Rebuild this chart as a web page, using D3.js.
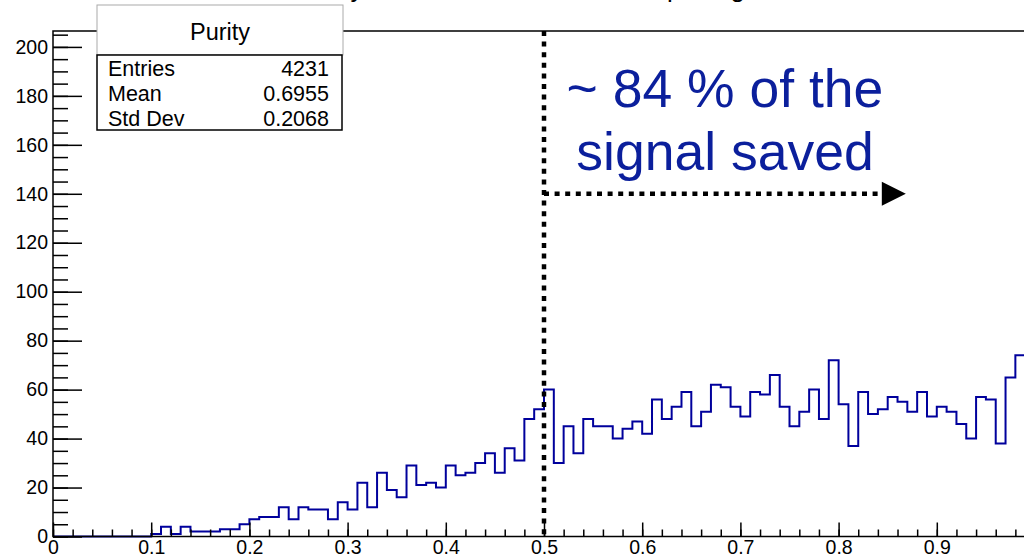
<!DOCTYPE html>
<html>
<head>
<meta charset="utf-8">
<script src="https://cdn.jsdelivr.net/npm/d3@7"></script>
<style>
  body { margin: 0; background: #fff; overflow: hidden; }
  svg { display: block; font-family: "Liberation Sans", Arial, sans-serif; }
</style>
</head>
<body>
<div id="chart"></div>
<script>
// purity histogram, 100 bins on [0,1]; last bin sits off the visible canvas
const binWidth = 0.01
const counts = [
  0, 0, 0, 0, 0, 0, 0, 0, 0, 0,
  1, 4, 1, 4, 2, 2, 2, 3, 3, 5,
  7, 8, 8, 12, 7, 12, 11, 11, 7, 14,
  11, 22, 12, 26, 19, 16, 29, 21, 22, 20,
  29, 25, 26, 30, 34, 26, 36, 31, 48, 52,
  60, 30, 45, 34, 48, 45, 45, 40, 44, 47,
  42, 56, 48, 53, 59, 45, 51, 62, 61, 53,
  49, 59, 58, 66, 53, 45, 51, 60, 48, 72,
  54, 37, 59, 50, 52, 57, 55, 51, 59, 49,
  53, 51, 46, 40, 57, 56, 38, 65, 74, 196
]
const xTicks = [0, 0.1, 0.2, 0.3, 0.4, 0.5, 0.6, 0.7, 0.8, 0.9]
const yTicks = [0, 20, 40, 60, 80, 100, 120, 140, 160, 180, 200]
const statLabels = ['Entries', 'Mean', 'Std Dev']
const statValues = ['4231', '0.6955', '0.2068']
const histTitle = 'Purity of the events with correct pairing'
const statTitle = 'Purity'
const noteLines = ['~ 84 % of the', 'signal saved']
const cutValue = 0.5
const arrowY = 140   // counts level of the dotted arrow
const arrowEnd = 0.844

const W = 1024, H = 558
const svg = d3.select('#chart').append('svg').attr('width', W).attr('height', H)

const x = d3.scaleLinear().domain([0, 1]).range([53, 1035])
const y = d3.scaleLinear().domain([0, 206.5]).range([536.5, 31])
const tickFont = 19.5

// title, mostly off the top of the canvas (as in the original crop)
svg.append('text')
  .attr('x', 297).attr('y', -3)
  .attr('font-size', 26)
  .text(histTitle)

// histogram outline
const pts = counts.map((c, i) => [i * binWidth, c])
pts.push([1, counts[counts.length - 1]])
const step = d3.line()
  .x(d => x(d[0]))
  .y(d => y(d[1]))
  .curve(d3.curveStepAfter)
svg.append('path')
  .attr('d', step(pts))
  .attr('fill', 'none')
  .attr('stroke', '#00009c')
  .attr('stroke-width', 2)

// frame
svg.append('rect')
  .attr('x', x(0)).attr('y', y.range()[1])
  .attr('width', x(1) - x(0)).attr('height', y(0) - y.range()[1])
  .attr('fill', 'none').attr('stroke', '#000').attr('stroke-width', 1.5)

// y axis: minor every 5, major every 20, ticks pointing inward
const yMinor = d3.range(0, 206, 5)
svg.append('g').attr('transform', `translate(${x(0)},0)`)
  .call(d3.axisLeft(y).tickValues(yMinor).tickFormat('').tickSizeInner(-15).tickSizeOuter(0))
  .call(g => g.select('.domain').remove())
svg.append('g').attr('transform', `translate(${x(0)},0)`)
  .call(d3.axisLeft(y).tickValues(yTicks).tickFormat(d3.format('d')).tickSizeInner(-29).tickSizeOuter(0).tickPadding(5))
  .call(g => g.select('.domain').remove())
  .call(g => g.selectAll('text').attr('font-size', tickFont).attr('fill', '#000')
    .attr('font-family', '"Liberation Sans", Arial, sans-serif'))

// x axis: minor every 0.02, major every 0.1
const xMinor = d3.range(0, 1.001, 0.02)
svg.append('g').attr('transform', `translate(0,${y(0)})`)
  .call(d3.axisBottom(x).tickValues(xMinor).tickFormat('').tickSizeInner(-7).tickSizeOuter(0))
  .call(g => g.select('.domain').remove())
svg.append('g').attr('transform', `translate(0,${y(0)})`)
  .call(d3.axisBottom(x).tickValues(xTicks).tickFormat(d => d === 0 ? '0' : d3.format('.1f')(d))
    .tickSizeInner(-14).tickSizeOuter(0).tickPadding(4))
  .call(g => g.select('.domain').remove())
  .call(g => g.selectAll('text').attr('font-size', tickFont).attr('fill', '#000')
    .attr('font-family', '"Liberation Sans", Arial, sans-serif'))
svg.selectAll('.tick line').attr('stroke', '#000').attr('stroke-width', 1.5)

// cut line at 0.5 and dotted arrow
svg.append('line')
  .attr('x1', x(cutValue)).attr('x2', x(cutValue))
  .attr('y1', y.range()[1]).attr('y2', y(0))
  .attr('stroke', '#000').attr('stroke-width', 4.5).attr('stroke-dasharray', '5 5.6')
const ax = x(arrowEnd)
svg.append('line')
  .attr('x1', x(cutValue)).attr('x2', ax - 2)
  .attr('y1', y(arrowY)).attr('y2', y(arrowY))
  .attr('stroke', '#000').attr('stroke-width', 4.5).attr('stroke-dasharray', '5 5.6')
svg.append('path')
  .attr('d', `M${ax},${y(arrowY) - 12} L${ax + 24},${y(arrowY)} L${ax},${y(arrowY) + 12} Z`)
  .attr('fill', '#000')

// annotation
const note = svg.append('text')
  .attr('text-anchor', 'middle')
  .attr('font-size', 53.5)
  .attr('fill', '#0b1f9c')
note.selectAll('tspan').data(noteLines).enter().append('tspan')
  .attr('x', 725)
  .attr('y', (d, i) => 107 + i * 63)
  .text(d => d)

// stats box
const sb = svg.append('g')
sb.append('rect')
  .attr('x', 97).attr('y', 5).attr('width', 246).attr('height', 50)
  .attr('fill', '#fff').attr('stroke', '#aaa').attr('stroke-width', 1)
sb.append('text')
  .attr('x', 220).attr('y', 40).attr('text-anchor', 'middle')
  .attr('font-size', 23.5).text(statTitle)
sb.append('rect')
  .attr('x', 97).attr('y', 55).attr('width', 245).attr('height', 75)
  .attr('fill', '#fff').attr('stroke', '#000').attr('stroke-width', 1.5)
statLabels.forEach((lab, i) => {
  sb.append('text').attr('x', 108).attr('y', 76 + i * 25)
    .attr('font-size', 21.5).text(lab)
  sb.append('text').attr('x', 329).attr('y', 76 + i * 25)
    .attr('text-anchor', 'end').attr('font-size', 21.5).text(statValues[i])
})
</script>
</body>
</html>
